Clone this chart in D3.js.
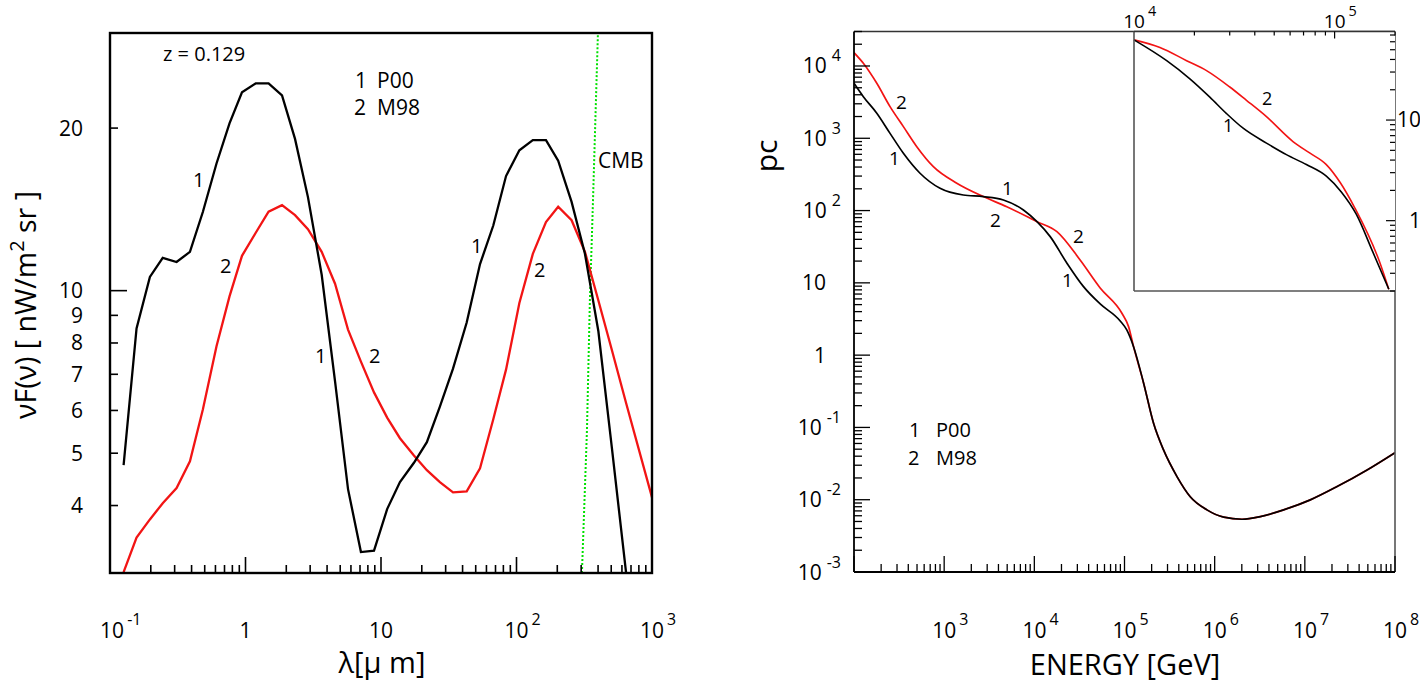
<!DOCTYPE html>
<html><head><meta charset="utf-8">
<script src="https://cdn.jsdelivr.net/npm/d3@7"></script>
<style>
body{margin:0;background:#fff}
svg{display:block}
text{font-family:"Open Sans",sans-serif;fill:#000}
</style>
</head><body>
<svg id="c" width="1420" height="682"></svg>
<script>
// ---------------- DATA ----------------
// Left panel: EBL spectra (wavelength in micron, nuF(nu) in nW/m^2/sr)
const lambda = [0.126,0.157,0.197,0.245,0.310,0.389,0.485,0.611,0.762,0.942,1.19,1.48,1.86,2.32,2.89,3.65,4.58,5.71,7.11,8.88,11.1,13.8,17.5,21.8,27.2,34.0,42.9,53.8,67.4,83.7,105,132,165,203,255,320,402,505,643,1000];
const fluxP00 = [4.75,8.51,10.6,11.5,11.3,11.8,14.0,17.2,20.4,23.3,24.2,24.2,23.0,19.1,14.9,10.7,6.79,4.29,3.28,3.30,3.94,4.42,4.80,5.24,6.10,7.17,8.73,11.2,13.2,16.3,18.2,19.0,19.0,17.4,14.6,11.7,8.41,5.13,3.01,null];
const fluxM98 = [3.01,3.49,3.77,4.04,4.31,4.83,6.03,7.89,9.76,11.6,12.8,14.0,14.4,13.8,13.0,11.8,10.3,8.47,7.39,6.48,5.82,5.33,4.95,4.65,4.42,4.23,4.25,4.69,5.78,7.14,9.49,11.7,13.4,14.3,13.5,11.8,9.59,7.77,6.20,4.14];
const cmbLambda = [0.1,304,331,348,367,399];
const cmbFlux = [3,3,5.5,9.6,14.7,30];

// Right panel: attenuation length (pc) vs energy (GeV)
const energyP00 = [100,127,179,251,353,540,900,1630,2720,4540,7570,10700,15000,23000,35100,53700,89600,106000,126000,163000,210000,271000,382000,536000,821000,1.26e6,2.01e6,3.21e6,5.82e6,1.15e7,2.28e7,4.90e7,1e8];
const pcP00 = [5760,3760,2220,1170,620,328,203,164,156,140,102,70.2,43.6,18.7,8.86,5.11,2.97,2.23,1.31,0.409,0.114,0.0488,0.0209,0.0110,0.00723,0.00573,0.00537,0.00584,0.00723,0.00994,0.0152,0.0258,0.0448];
const energyM98 = [100,127,179,251,353,497,759,1380,2720,4950,10700,17800,32200,53700,93600,111000,126000,163000,210000,271000,382000,536000,821000,1.26e6,2.01e6,3.21e6,5.82e6,1.15e7,2.28e7,4.90e7,1e8];
const pcM98 = [15300,10900,5760,2740,1450,765,405,239,156,113,70.2,51.1,20.7,8.50,3.80,2.48,1.31,0.409,0.114,0.0488,0.0209,0.0110,0.00723,0.00573,0.00537,0.00584,0.00723,0.00994,0.0152,0.0258,0.0448];

// Inset (zoom of 1e4 - 2e5 GeV)
const insetEnergyP00 = [10000,14550,18990,23880,28920,34990,45740,57500,72320,90930,108000,128200,155000,186300];
const insetP00 = [62.6,38.9,25.7,16.9,11.6,8.29,5.90,4.53,3.61,2.77,1.93,1.16,0.489,0.208];
const insetEnergyM98 = [10000,13470,18290,22990,30030,36370,45740,62000,75080,90930,106800,125800,167500,186300];
const insetM98 = [62.6,52.6,38.9,31.0,21.3,15.7,10.8,6.12,4.71,3.61,2.38,1.35,0.390,0.208];

// Tick labels
const leftYLabels = [4,5,6,7,8,9,10,20];
const leftXTicks = [0.1,1,10,100,1000];
const leftXText = [["10","-1"],["1",""],["10",""],["10","2"],["10","3"]];
const rightYTicks = [1e4,1e3,1e2,10,1,0.1,0.01,0.001];
const rightYText = [["10","4"],["10","3"],["10","2"],["10",""],["1",""],["10","-1"],["10","-2"],["10","-3"]];
const rightXTicks = [1e3,1e4,1e5,1e6,1e7,1e8];
const rightXText = [["10","3"],["10","4"],["10","5"],["10","6"],["10","7"],["10","8"]];
const insetXTicks = [1e4,1e5];
const insetXText = [["10","4"],["10","5"]];
const insetYTicks = [10,1];
const insetYText = ["10","1"];

// ---------------- DRAW ----------------
const svg = d3.select("#c");
const RED = "#f21414", GREEN = "#00e000";
const TF = 21; // tick label font size

function isMajor(v){ const l = Math.log10(v); return Math.abs(l - Math.round(l)) < 1e-9; }

// ===== LEFT PANEL =====
const xL = d3.scaleLog().domain([0.1,1000]).range([110,652]);
const yL = d3.scaleLog().domain([3,30]).range([573,33]);
const yLc = yL.copy().clamp(true);

svg.append("clipPath").attr("id","clipL").append("rect")
  .attr("x",110).attr("y",33).attr("width",542).attr("height",540);

// CMB
svg.append("path")
  .datum(cmbLambda.map((l,i)=>[l,cmbFlux[i]]))
  .attr("d", d3.line().x(d=>xL(d[0])).y(d=>yLc(d[1])))
  .attr("fill","none").attr("stroke",GREEN).attr("stroke-width",2)
  .attr("stroke-dasharray","2,2");

const gL = svg.append("g").attr("clip-path","url(#clipL)");
const lineL = d3.line().defined(d=>d[1]!=null).x(d=>xL(d[0])).y(d=>yL(d[1]));
gL.append("path").datum(lambda.map((l,i)=>[l,fluxM98[i]]))
  .attr("d",lineL).attr("fill","none").attr("stroke",RED).attr("stroke-width",2.3);
gL.append("path").datum(lambda.map((l,i)=>[l,fluxP00[i]]))
  .attr("d",lineL).attr("fill","none").attr("stroke","#000").attr("stroke-width",2.3);

// frame
svg.append("rect").attr("x",110).attr("y",33).attr("width",542).attr("height",540)
  .attr("fill","none").attr("stroke","#000").attr("stroke-width",2.4);

// bottom ticks
const ticksLX = xL.ticks();
svg.append("g").selectAll("line").data(ticksLX).join("line")
  .attr("x1",d=>xL(d)).attr("x2",d=>xL(d))
  .attr("y1",573).attr("y2",d=>573-(isMajor(d)?16:8))
  .attr("stroke","#000").attr("stroke-width",1.6);
// left ticks
svg.append("g").selectAll("line").data(leftYLabels).join("line")
  .attr("x1",110).attr("x2",d=>110+(isMajor(d)?17:8))
  .attr("y1",d=>yL(d)).attr("y2",d=>yL(d))
  .attr("stroke","#000").attr("stroke-width",1.6);
// left y labels
svg.append("g").selectAll("text").data(leftYLabels).join("text")
  .attr("x",83).attr("y",d=>yL(d)+7.5).attr("text-anchor","end")
  .attr("font-size",TF).text(d=>d);
// one text element: base centred on x, exponent as raised tspan
function expLabel(g, x, y, base, exp, size){
  const es = size*0.76, dx = 3;
  const expW = exp ? exp.length*es*0.58 + dx : 0;
  const t = g.append("text").attr("x",x+expW/2).attr("y",y)
    .attr("font-size",size).attr("text-anchor","middle");
  t.append("tspan").text(base);
  if(exp){
    t.append("tspan").attr("dx",dx).attr("dy",-size*0.62).attr("font-size",es).text(exp);
  }
}
const gLX = svg.append("g");
leftXTicks.forEach((v,i)=>expLabel(gLX, xL(v), 638, leftXText[i][0], leftXText[i][1], TF));

// titles
svg.append("text").attr("x",382).attr("y",673).attr("text-anchor","middle")
  .attr("font-size",29).text("λ[μ m]");
const yt = svg.append("text").attr("transform","translate(36,305) rotate(-90)")
  .attr("text-anchor","middle").attr("font-size",28.5);
yt.append("tspan").text("νF(ν) [ nW/m");
yt.append("tspan").attr("dy",-12).attr("font-size",20).text("2");
yt.append("tspan").attr("dy",12).text(" sr ]");

// annotations
svg.append("text").attr("x",163).attr("y",61).attr("font-size",20).text("z = 0.129");
svg.append("text").attr("x",355).attr("y",88).attr("font-size",21).text("1");
svg.append("text").attr("x",377).attr("y",88).attr("font-size",21).text("P00");
svg.append("text").attr("x",354).attr("y",115).attr("font-size",21).text("2");
svg.append("text").attr("x",377).attr("y",115).attr("font-size",21).text("M98");
svg.append("text").attr("x",598).attr("y",168).attr("font-size",21).text("CMB");
const leftCurveLabels = [["1",193,187],["2",220,273],["1",315,363],["2",369,363],["1",471,253],["2",534,277]];
svg.append("g").selectAll("text").data(leftCurveLabels).join("text")
  .attr("x",d=>d[1]).attr("y",d=>d[2]).attr("font-size",20).text(d=>d[0]);

// ===== RIGHT PANEL =====
const xR = d3.scaleLog().domain([100,1e8]).range([854,1395]);
const yR = d3.scaleLog().domain([1e-3,3e4]).range([572,31.5]);

svg.append("clipPath").attr("id","clipR").append("rect")
  .attr("x",854).attr("y",31.5).attr("width",541).attr("height",540.5);
const gR = svg.append("g").attr("clip-path","url(#clipR)");
const lineR = d3.line().x(d=>xR(d[0])).y(d=>yR(d[1])).curve(d3.curveMonotoneX);
gR.append("path").datum(energyM98.map((e,i)=>[e,pcM98[i]]))
  .attr("d",lineR).attr("fill","none").attr("stroke",RED).attr("stroke-width",1.7);
gR.append("path").datum(energyP00.map((e,i)=>[e,pcP00[i]]))
  .attr("d",lineR).attr("fill","none").attr("stroke","#000").attr("stroke-width",1.7);

// frame: top/right gray, left/bottom black
svg.append("line").attr("x1",854).attr("x2",1395).attr("y1",31.5).attr("y2",31.5).attr("stroke","#333").attr("stroke-width",1.5);
svg.append("line").attr("x1",1395).attr("x2",1395).attr("y1",31.5).attr("y2",572).attr("stroke","#555").attr("stroke-width",1.6);
svg.append("line").attr("x1",854).attr("x2",854).attr("y1",31.5).attr("y2",572).attr("stroke","#000").attr("stroke-width",1.8);
svg.append("line").attr("x1",854).attr("x2",1395).attr("y1",572).attr("y2",572).attr("stroke","#000").attr("stroke-width",1.8);

const ticksRY = yR.ticks().filter(d=>d>=1e-3 && d<=3e4);
svg.append("g").selectAll("line").data(ticksRY).join("line")
  .attr("x1",854).attr("x2",d=>854+(isMajor(d)?16:8))
  .attr("y1",d=>yR(d)).attr("y2",d=>yR(d))
  .attr("stroke","#000").attr("stroke-width",1.3);
const ticksRX = xR.ticks();
svg.append("g").selectAll("line").data(ticksRX).join("line")
  .attr("x1",d=>xR(d)).attr("x2",d=>xR(d))
  .attr("y1",572).attr("y2",d=>572-(isMajor(d)?16:8))
  .attr("stroke","#000").attr("stroke-width",1.3);

// right y labels
const gRY = svg.append("g");
rightYTicks.forEach((v,i)=>{
  const [b,e] = rightYText[i];
  const t = gRY.append("text").attr("y",yR(v)+7.5).attr("text-anchor","end").attr("font-size",TF);
  if(e){
    t.attr("x",841);
    t.append("tspan").text(b);
    t.append("tspan").attr("dx",5).attr("dy",-12).attr("font-size",16).text(e);
  } else {
    t.attr("x",826).text(b);
  }
});
const gRX = svg.append("g");
rightXTicks.forEach((v,i)=>expLabel(gRX, xR(v), 638, rightXText[i][0], rightXText[i][1], TF));

svg.append("text").attr("x",1125).attr("y",675).attr("text-anchor","middle")
  .attr("font-size",29).text("ENERGY [GeV]");
svg.append("text").attr("transform","translate(777,156) rotate(-90)")
  .attr("text-anchor","middle").attr("font-size",30).text("pc");

svg.append("text").attr("x",909).attr("y",437).attr("font-size",20).text("1");
svg.append("text").attr("x",936).attr("y",437).attr("font-size",20).text("P00");
svg.append("text").attr("x",908).attr("y",465).attr("font-size",20).text("2");
svg.append("text").attr("x",936).attr("y",465).attr("font-size",20).text("M98");
const rightCurveLabels = [["2",896,109],["1",889,165],["1",1002,195],["2",990,227],["2",1073,243],["1",1062,287]];
svg.append("g").selectAll("text").data(rightCurveLabels).join("text")
  .attr("x",d=>d[1]).attr("y",d=>d[2]).attr("font-size",19).text(d=>d[0]);

// ===== INSET =====
const xI = d3.scaleLog().domain([1e4,2e5]).range([1134,1395]);
const yI = d3.scaleLog().domain([0.2,75]).range([291,32]);
svg.append("rect").attr("x",1134).attr("y",32).attr("width",261).attr("height",259).attr("fill","#fff");
const lineI = d3.line().x(d=>xI(d[0])).y(d=>yI(d[1])).curve(d3.curveMonotoneX);
svg.append("path").datum(insetEnergyM98.map((e,i)=>[e,insetM98[i]]))
  .attr("d",lineI).attr("fill","none").attr("stroke",RED).attr("stroke-width",1.6);
svg.append("path").datum(insetEnergyP00.map((e,i)=>[e,insetP00[i]]))
  .attr("d",lineI).attr("fill","none").attr("stroke","#000").attr("stroke-width",1.6);
svg.append("line").attr("x1",1134).attr("x2",1134).attr("y1",31.5).attr("y2",291).attr("stroke","#555").attr("stroke-width",1.6);
svg.append("line").attr("x1",1134).attr("x2",1395).attr("y1",291).attr("y2",291).attr("stroke","#555").attr("stroke-width",1.6);
svg.append("line").attr("x1",1134).attr("x2",1395).attr("y1",31.5).attr("y2",31.5).attr("stroke","#333").attr("stroke-width",1.6);

const ticksIX = xI.ticks().filter(d=>d>1e4);
svg.append("g").selectAll("line").data(ticksIX).join("line")
  .attr("x1",d=>xI(d)).attr("x2",d=>xI(d))
  .attr("y1",31.5).attr("y2",d=>31.5+(isMajor(d)?7:4))
  .attr("stroke","#000").attr("stroke-width",1.2);
const ticksIY = yI.ticks();
svg.append("g").selectAll("line").data(ticksIY).join("line")
  .attr("x1",1395).attr("x2",d=>1395-(isMajor(d)?9:5))
  .attr("y1",d=>yI(d)).attr("y2",d=>yI(d))
  .attr("stroke","#000").attr("stroke-width",1.2);
const gIX = svg.append("g");
insetXTicks.forEach((v,i)=>expLabel(gIX, xI(v), 28, insetXText[i][0], insetXText[i][1], 19));
svg.append("g").selectAll("text").data(insetYTicks).join("text")
  .attr("x",1421).attr("y",(d)=>yI(d)+7).attr("text-anchor","end").attr("font-size",TF)
  .text((d,i)=>insetYText[i]);
svg.append("text").attr("x",1262).attr("y",105).attr("font-size",18).text("2");
svg.append("text").attr("x",1223).attr("y",132).attr("font-size",18).text("1");
</script>
</body></html>
